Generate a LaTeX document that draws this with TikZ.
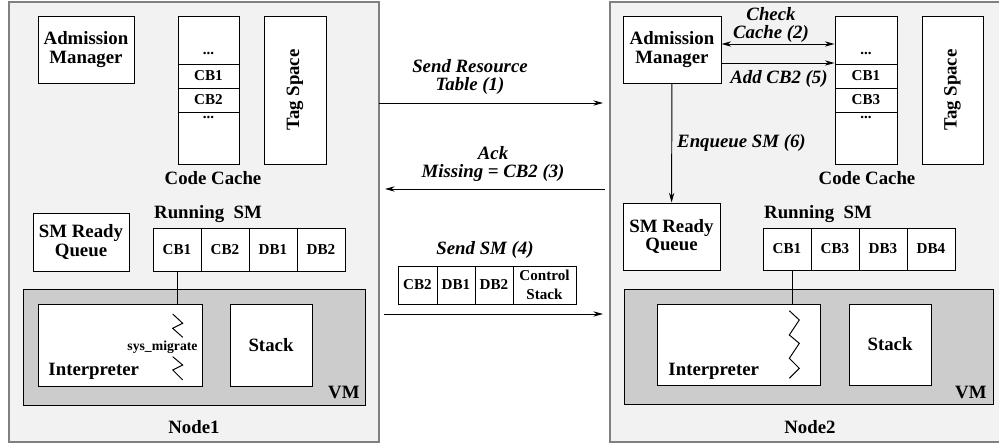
\documentclass[tikz,border=0pt]{standalone}
\usepackage{fontspec}
\setmainfont{Liberation Serif}
\usetikzlibrary{arrows.meta}
\definecolor{hostbg}{HTML}{F2F2F2}
\definecolor{hostline}{HTML}{808080}
\definecolor{vmbg}{HTML}{CCCCCC}

\begin{document}
\begin{tikzpicture}[x=0.2mm, y=-0.2mm, line width=0.55pt, node distance=9.6mm, >={Stealth[length=5.5pt, width=3pt]}, host/.style={rectangle, draw=hostline, line width=0.9pt, fill=hostbg}, vmbox/.style={rectangle, draw, fill=vmbg}, block/.style={rectangle, draw, fill=white, inner sep=0pt, align=center, font=\bfseries\fontsize{10.7}{10.5}\selectfont}, cell/.style={rectangle, draw, fill=white, inner sep=0pt, align=center, minimum width=9.6mm, font=\bfseries\fontsize{8.6}{10.5}\selectfont}, txt/.style={inner sep=0pt, align=center, font=\bfseries\fontsize{10.7}{10.5}\selectfont}, msg/.style={inner sep=0pt, align=center, font=\bfseries\itshape\fontsize{10.7}{10.5}\selectfont}]

\clip (0,0) rectangle (999,444);
\node[host, minimum width=74mm, minimum height=88mm] (node1) at (194,222) {};
\node[host, minimum width=82mm, minimum height=88mm, anchor=west] (node2) at (609,222) {};

\node[block, minimum width=19.2mm, minimum height=13.4mm] (admit1) at (86,49.5) {Admission\\Manager};
\node[block, minimum width=12.2mm, minimum height=29.6mm] (cache1) at (208.5,90) {};
\node[cell, minimum width=12.2mm, minimum height=4.8mm] (cache1b) at (208.5,76) {CB1};
\node[cell, minimum width=12.2mm, minimum height=4.8mm, below of=cache1b, node distance=4.8mm] (cache1c) {CB2};
\node[txt, anchor=base, font=\bfseries\fontsize{8.6}{10.5}\selectfont] (cache1top) at (208.5,55) {...};
\node[txt, anchor=base, font=\bfseries\fontsize{8.6}{10.5}\selectfont] (cache1bot) at (208.5,119) {...};
\node[block, rotate=90, minimum width=29.6mm, minimum height=12.4mm] (tag1) at (295,90) {Tag Space};
\node[txt] (cachelbl1) at (213,178) {Code Cache};
\node[block, minimum width=19.2mm, minimum height=11.6mm] (ready1) at (81,242) {SM Ready\\Queue};
\node[txt] (runlbl1) at (208,214) {Running\ \ SM};
\node[cell, minimum height=8.6mm] (run1a) at (177,249.5) {CB1};
\node[cell, minimum height=8.6mm, right of=run1a] (run1b) {CB2};
\node[cell, minimum height=8.6mm, right of=run1b] (run1c) {DB1};
\node[cell, minimum height=8.6mm, right of=run1c] (run1d) {DB2};
\node[vmbox, minimum width=68.4mm, minimum height=23.2mm] (vm1) at (194,347) {};
\node[block, minimum width=32.8mm, minimum height=16.4mm] (interp1) at (120,345) {};
\node[block, minimum width=16.4mm, minimum height=16.4mm] (stack1) at (271,345) {Stack};
\node[txt, anchor=base west] (interplbl1) at (48,375) {Interpreter};
\node[txt, anchor=base east] (vmlbl1) at (360,398) {VM};
\node[txt, anchor=east, font=\bfseries\fontsize{7.8}{9}\selectfont] (migrate) at (198,347) {sys\_migrate};
\node[txt] (hostlbl1) at (194,427) {Node1};
\draw (run1a) -- (run1a |- interp1.north);
\draw (172.7,314) -- (182.7,323.3) -- (172.7,328.3) -- (182.7,337.3);
\draw (172.7,356.7) -- (182.7,365) -- (172.7,370) -- (182.7,380);

\coordinate (send1s) at (379,103);
\coordinate (send1e) at (603,103);
\coordinate (ack1s) at (605,189);
\coordinate (ack1e) at (385,189);
\coordinate (send2s) at (384,314);
\coordinate (send2e) at (603,314);
\node[msg] (sendlbl) at (470,77) {Send Resource\\Table (1)};
\node[msg] (acklbl) at (493,164) {Ack\\Missing = CB2 (3)};
\node[msg] (smlbl) at (485,250) {Send SM (4)};
\draw[->] (send1s) -- (send1e);
\draw[->] (ack1s) -- (ack1e);
\draw[->] (send2s) -- (send2e);
\node[cell, minimum width=7.8mm, minimum height=7.6mm] (pkt1) at (417.5,285) {CB2};
\node[cell, minimum width=7.6mm, minimum height=7.6mm] (pkt2) at (456,285) {DB1};
\node[cell, minimum width=7.6mm, minimum height=7.6mm] (pkt3) at (494,285) {DB2};
\node[cell, minimum width=12.6mm, minimum height=7.6mm] (pkt4) at (544.5,285) {Control\\Stack};

\node[block, minimum width=19.6mm, minimum height=13.4mm] (admit2) at (672,49.5) {Admission\\Manager};
\node[block, minimum width=12.4mm, minimum height=29.6mm] (cache2) at (866,90) {};
\node[cell, minimum width=12.4mm, minimum height=4.8mm] (cache2b) at (866,76) {CB1};
\node[cell, minimum width=12.4mm, minimum height=4.8mm, below of=cache2b, node distance=4.8mm] (cache2c) {CB3};
\node[txt, anchor=base, font=\bfseries\fontsize{8.6}{10.5}\selectfont] (cache2top) at (866,55) {...};
\node[txt, anchor=base, font=\bfseries\fontsize{8.6}{10.5}\selectfont] (cache2bot) at (866,119) {...};
\node[block, rotate=90, minimum width=29.6mm, minimum height=12.2mm] (tag2) at (952.5,90) {Tag Space};
\node[txt] (cachelbl2) at (867,178) {Code Cache};
\node[msg] (checklbl) at (771,25) {Check\\Cache (2)};
\node[msg] (addlbl) at (779,79) {Add CB2 (5)};
\draw[<->] ([yshift=1.1mm]admit2.east) -- ([yshift=1.1mm]admit2.east -| cache2.west);
\draw[->] ([yshift=-2.7mm]admit2.east) -- ([yshift=-2.7mm]admit2.east -| cache2.west);
\node[block, minimum width=19.4mm, minimum height=13.4mm] (ready2) at (671.5,236.5) {SM Ready\\Queue};
\draw[->] (admit2) -- node[msg, right=1mm] (enqlbl) {Enqueue SM (6)} (ready2);
\node[txt] (runlbl2) at (818,214) {Running\ \ SM};
\node[cell, minimum height=8.4mm] (run2a) at (787,249) {CB1};
\node[cell, minimum height=8.4mm, right of=run2a] (run2b) {CB3};
\node[cell, minimum height=8.4mm, right of=run2b] (run2c) {DB3};
\node[cell, minimum height=8.4mm, right of=run2c] (run2d) {DB4};
\node[vmbox, minimum width=73.8mm, minimum height=23mm] (vm2) at (808.5,346.5) {};
\node[block, minimum width=32.6mm, minimum height=16.2mm] (interp2) at (738.5,344.5) {};
\node[block, minimum width=16.4mm, minimum height=16.2mm] (stack2) at (890,344.5) {Stack};
\node[txt, anchor=base west] (interplbl2) at (668,375) {Interpreter};
\node[txt, anchor=base east] (vmlbl2) at (987,398) {VM};
\node[txt] (hostlbl2) at (810,427) {Node2};
\draw ([xshift=1mm]run2a.south) -- ([xshift=1mm]run2a.south |- interp2.north);
\draw (789.3,310.7) -- (799.3,320) -- (789.3,335) -- (799.3,343.3) -- (789.3,358.3) -- (799.3,368.3) -- (789.3,378.3);

\end{tikzpicture}
\end{document}
